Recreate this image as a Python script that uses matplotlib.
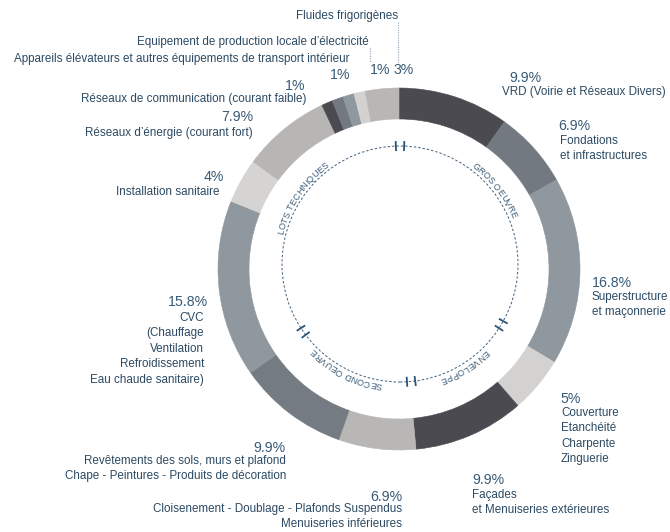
import matplotlib
matplotlib.use("Agg")
import matplotlib.pyplot as plt
import numpy as np
from matplotlib.patches import Circle
from matplotlib.font_manager import FontProperties

plt.rcParams['font.family'] = ['Liberation Sans', 'DejaVu Sans']

W, H = 670, 532

# segments, clockwise from 12 o'clock
values = [9.9, 6.9, 16.8, 5, 9.9, 6.9, 9.9, 15.8, 4, 7.9, 1, 1, 1, 1, 3]
pct_labels = ["9.9%", "6.9%", "16.8%", "5%", "9.9%", "6.9%", "9.9%", "15.8%",
              "4%", "7.9%", "1%", "1%", "1%", "", "3%"]
names = [
    "VRD (Voirie et Réseaux Divers)",
    "Fondations\net infrastructures",
    "Superstructure\net maçonnerie",
    "Couverture\nEtanchéité\nCharpente\nZinguerie",
    "Façades\net Menuiseries extérieures",
    "Cloisenement - Doublage - Plafonds Suspendus\nMenuiseries inférieures",
    "Revêtements des sols, murs et plafond\nChape - Peintures - Produits de décoration",
    "CVC\n(Chauffage\nVentilation\nRefroidissement\nEau chaude sanitaire)",
    "Installation sanitaire",
    "Réseaux d’énergie (courant fort)",
    "Réseaux de communication (courant faible)",
    "Appareils élévateurs et autres équipements de transport intérieur",
    "Equipement de production locale d’électricité",
    "",
    "Fluides frigorigènes",
]
colors = ["#4b4a50", "#737980", "#8f979f", "#d4d2d0", "#4b4a50", "#b9b7b6",
          "#747b82", "#8f979f", "#d6d4d3", "#b8b6b5", "#4b4a50", "#737980",
          "#8f979f", "#d4d2d0", "#b9b7b6"]

groups = ["GROS OEUVRE", "ENVELOPPE", "SECOND OEUVRE", "LOTS TECHNIQUES"]
group_sizes = [3, 2, 2, 8]

# label layout in pixels from top-left: pct (x, y, ha), name (x, y_top, ha)
layout = [
    (509, 78, "left", 502, 86, "left"),
    (558, 126, "left", 560, 135, "left"),
    (592, 283, "left", 592, 291, "left"),
    (560, 399, "left", 561, 407, "left"),
    (472, 480, "left", 472, 489, "left"),
    (402, 497, "right", 402, 503, "right"),
    (286, 448, "right", 286, 455, "right"),
    (208, 302, "right", 204, 312, "right"),
    (224, 177, "right", 219, 186, "right"),
    (253, 117, "right", 253, 127, "right"),
    (305, 86, "right", 306, 93, "right"),
    (350, 75, "right", 350, 53, "right"),
    (380, 70, "center", 369, 36, "right"),
    None,
    (404, 70, "center", 398, 10, "right"),
]

pct_color = "#385a76"
txt_color = "#2c4a63"
line_color = "#3e5f7c"

fig = plt.figure(figsize=(W / 100, H / 100), dpi=100)
ax = fig.add_axes([0, 0, 1, 1])

cx, cy = 399, H - 269
wedges, _ = ax.pie(values, colors=colors, startangle=90, counterclock=False,
                   radius=181, center=(cx, cy),
                   wedgeprops=dict(width=31, linewidth=0.4))
for w_, c in zip(wedges, colors):
    w_.set_edgecolor(c)

ax.set_xlim(0, W)
ax.set_ylim(0, H)
ax.set_aspect("equal")
ax.axis("off")

# labels
for pct, name, lay in zip(pct_labels, names, layout):
    if lay is None:
        continue
    px, py, pha, nx, ny, nha = lay
    ax.text(px, H - py, pct, ha=pha, va="center", fontsize=10.2, color=pct_color)
    ax.text(nx, H - ny, name, ha=nha, va="top", fontsize=8.4, color=txt_color,
            linespacing=1.38, multialignment=nha)

# leader lines for the small top segments
ax.plot([398, 398], [H - 22, H - 62], ls=(0, (1, 1.2)), lw=0.8, color="#8fa3b5")
ax.plot([370, 370], [H - 48, H - 62], ls=(0, (1, 1.2)), lw=0.8, color="#8fa3b5")

# inner dashed circle with group marks
dx, dy, dr = 400, H - 264, 118
ax.add_patch(Circle((dx, dy), dr, fill=False, ls=(0, (2.5, 2)), lw=0.7,
                    color=line_color))

cum = np.cumsum(values)
ends = np.cumsum(group_sizes)
bounds = [0] + [cum[e - 1] for e in ends[:-1]]
for b in bounds:
    a0 = 360 * b / sum(values)
    for d in (-2.0, 2.0):
        a = np.radians(a0 + d)
        ax.plot([dx + (dr - 5) * np.sin(a), dx + (dr + 5) * np.sin(a)],
                [dy + (dr - 5) * np.cos(a), dy + (dr + 5) * np.cos(a)],
                color="#2a5578", lw=1.3, solid_capstyle="butt")

renderer = fig.canvas.get_renderer()
prop = FontProperties(family="Liberation Sans", size=6.5)


def tw(t):
    if not t:
        return 0.0
    return renderer.get_text_width_height_descent(t, prop, ismath=False)[0]


def arc_text(s, mid_deg, r):
    total = tw(s)
    for i, ch in enumerate(s):
        if ch == " ":
            continue
        off = (tw(s[:i]) + tw(s[:i + 1])) / 2 - total / 2
        phi = mid_deg + np.degrees(off / r)
        a = np.radians(phi)
        ax.text(dx + r * np.sin(a), dy + r * np.cos(a), ch, fontproperties=prop,
                color=line_color, rotation=-phi, rotation_mode="anchor",
                ha="center", va="baseline")


group_angles = [52, 148, 207, 304]
for g, ang in zip(groups, group_angles):
    arc_text(g, ang, dr + 2.5)

fig.savefig("out.png", dpi=100, facecolor="white")
